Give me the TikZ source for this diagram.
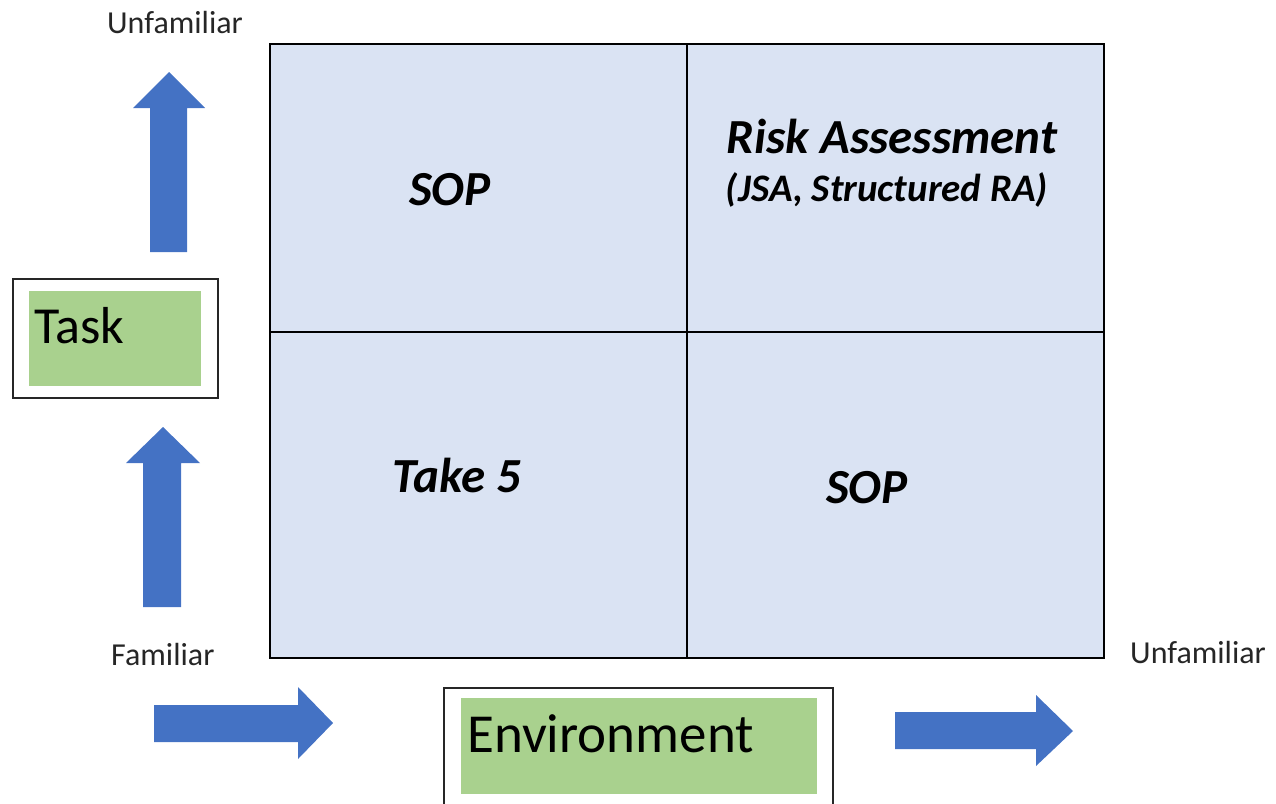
\documentclass[tikz,border=0pt]{standalone}
\usepackage{fontspec}
\setmainfont{Carlito}
\usetikzlibrary{positioning}

\definecolor{cellblue}{HTML}{DAE3F3}
\definecolor{boxgreen}{HTML}{A9D18E}
\definecolor{arrowblue}{HTML}{4472C4}
\definecolor{labelgray}{HTML}{262626}

\tikzset{
  cell/.style={draw=black, line width=1.6pt, fill=cellblue, minimum width=417pt, inner sep=0pt, anchor=north west},
  frame/.style={draw=black!85, line width=1.6pt, fill=white, inner sep=0pt, anchor=north west},
  greenfill/.style={fill=boxgreen, inner sep=0pt, anchor=north west},
  celltext/.style={inner sep=0pt, anchor=base, font=\fontsize{49}{55}\selectfont\bfseries\itshape},
  axislabel/.style={inner sep=0pt, anchor=base west, text=labelgray, font=\fontsize{32}{36}\selectfont},
}

\begin{document}
\begin{tikzpicture}[x=1pt, y=-1pt]
\useasboundingbox (0,0) rectangle (1276,803);

% matrix of cells
\node[cell, minimum height=288pt] (topleft) at (269,43) {};
\node[cell, minimum height=288pt] (topright) at (686,43) {};
\node[cell, minimum height=326pt] (bottomleft) at (269,331) {};
\node[cell, minimum height=326pt] (bottomright) at (686,331) {};

\node[celltext] (sop_top) at (450,205) {SOP};
\node[celltext] (risk) at (892,153) {Risk Assessment};
\node[celltext, font=\fontsize{39}{44}\selectfont\bfseries\itshape] (risk_sub) at (887,201) {(JSA, Structured RA)};
\node[celltext] (take_five) at (457,492) {Take 5};
\node[celltext] (sop_bottom) at (867,503) {SOP};

% task axis
\node[axislabel] (task_unfamiliar) at (107,33) {Unfamiliar};
\fill[arrowblue] (150,252) -- (150,108) -- (133,108) -- (169,72) -- (205,108) -- (187,108) -- (187,252) -- cycle;
\node[frame, minimum width=205pt, minimum height=119pt] (task_frame) at (12,278) {};
\node[greenfill, minimum width=172pt, minimum height=95pt] (task_fill) at (29,291) {};
\node[inner sep=0pt, anchor=base west, font=\fontsize{52}{58}\selectfont] (task) at (34,343) {Task};
\fill[arrowblue] (143,607) -- (143,463) -- (126,463) -- (163,427) -- (200,463) -- (181,463) -- (181,607) -- cycle;
\node[axislabel] (task_familiar) at (111,665) {Familiar};

% environment axis
\fill[arrowblue] (154,705) -- (298,705) -- (298,687) -- (333,723) -- (298,759) -- (298,742) -- (154,742) -- cycle;
\node[frame, minimum width=389pt, minimum height=125pt] (env_frame) at (443,687) {};
\node[greenfill, minimum width=356pt, minimum height=96pt] (env_fill) at (461,698) {};
\node[inner sep=0pt, anchor=base west, font=\fontsize{55}{62}\selectfont] (environment) at (467,752) {Environment};
\fill[arrowblue] (895,712) -- (1036,712) -- (1036,695) -- (1073,731) -- (1036,766) -- (1036,749) -- (895,749) -- cycle;
\node[axislabel] (env_unfamiliar) at (1130,663) {Unfamiliar};

\end{tikzpicture}
\end{document}
